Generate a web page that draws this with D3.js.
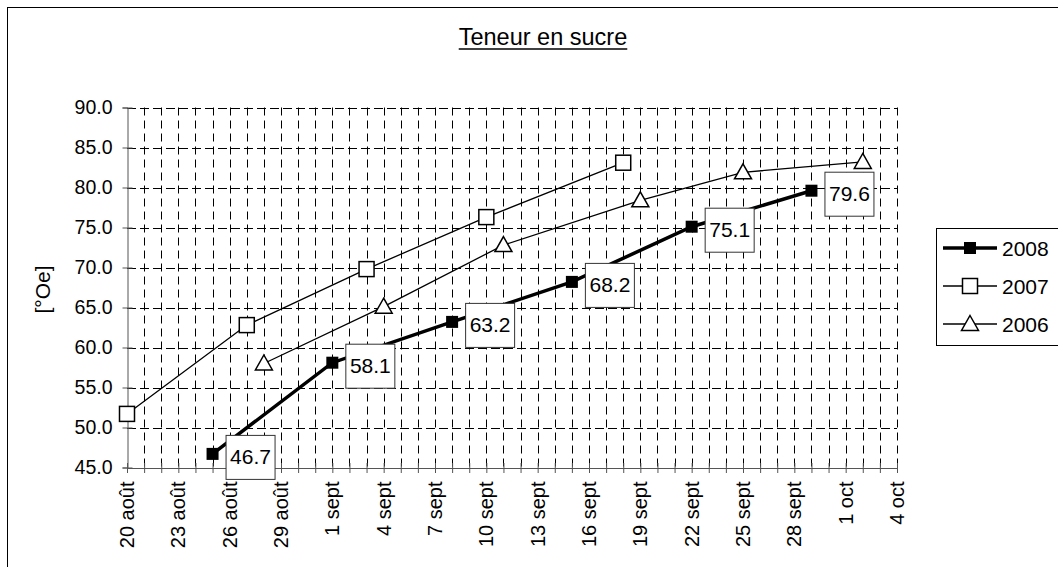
<!DOCTYPE html>
<html>
<head>
<meta charset="utf-8">
<script src="https://cdn.jsdelivr.net/npm/d3@7"></script>
<style>
  html, body { margin: 0; padding: 0; background: #fff; }
  svg { display: block; }
  text { font-family: "Liberation Sans", Arial, sans-serif; fill: #000; }
</style>
</head>
<body>
<svg id="chart" width="1058" height="567"></svg>
<script>
// ---- Data ----
const title = "Teneur en sucre";
const yAxisTitle = "[°Oe]";
const seriesNames = ["2008", "2007", "2006"];
const dates2008 = ["08-25", "09-01", "09-08", "09-15", "09-22", "09-29"];
const values2008 = [46.7, 58.1, 63.2, 68.2, 75.1, 79.6];
const dates2007 = ["08-20", "08-27", "09-03", "09-10", "09-18"];
const values2007 = [51.7, 62.8, 69.8, 76.3, 83.1];
const dates2006 = ["08-28", "09-04", "09-11", "09-19", "09-25", "10-02"];
const values2006 = [58.0, 65.1, 72.8, 78.4, 81.9, 83.2];
const xDomain = ["08-20", "10-04"];
const yTicks = [45, 50, 55, 60, 65, 70, 75, 80, 85, 90];
const monthNames = { 8: "août", 9: "sept", 10: "oct" };

// ---- Helpers ----
const parse = s => { const [m, d] = s.split("-").map(Number); return new Date(Date.UTC(2008, m - 1, d)); };
const fmtDate = d => d.getUTCDate() + " " + monthNames[d.getUTCMonth() + 1];

const svg = d3.select("#chart");
const plot = { left: 127, right: 897, top: 107.5, bottom: 467.5 };

const x = d3.scaleUtc().domain(xDomain.map(parse)).range([plot.left, plot.right]);
const y = d3.scaleLinear().domain([45, 90]).range([plot.bottom, plot.top]);

// outer border
svg.append("rect").attr("x", 7.5).attr("y", 7.5).attr("width", 1100).attr("height", 600)
  .attr("fill", "#fff").attr("stroke", "#000").attr("stroke-width", 1);

// days & tick dates
const allDays = d3.utcDay.range(parse(xDomain[0]), d3.utcDay.offset(parse(xDomain[1]), 1));
const labelDays = allDays.filter((d, i) => i % 3 === 0);

// vertical gridlines (every day)
svg.append("g").selectAll("line").data(allDays.slice(1)).join("line")
  .attr("x1", d => Math.round(x(d)) + 0.5).attr("x2", d => Math.round(x(d)) + 0.5)
  .attr("y1", plot.top).attr("y2", plot.bottom)
  .attr("stroke", "#000").attr("stroke-width", 1).attr("stroke-dasharray", "8,5");

// horizontal gridlines
svg.append("g").selectAll("line").data(yTicks.slice(1)).join("line")
  .attr("x1", plot.left).attr("x2", plot.right)
  .attr("y1", d => Math.round(y(d)) + 0.5).attr("y2", d => Math.round(y(d)) + 0.5)
  .attr("stroke", "#000").attr("stroke-width", 1).attr("stroke-dasharray", "9,4");

// Y axis
const yAxis = d3.axisLeft(y).tickValues(yTicks).tickFormat(d3.format(".1f")).tickSize(5).tickPadding(10);
const gy = svg.append("g").attr("transform", `translate(${plot.left + 0.5},0)`).call(yAxis);
gy.select(".domain").attr("stroke", "#555");
gy.selectAll(".tick line").attr("stroke", "#555").attr("x2", -5).attr("x1", 5);
gy.selectAll(".tick text").attr("font-size", 19.5).attr("font-family", "Liberation Sans, Arial, sans-serif").attr("fill", "#000");

// X axis
const xAxis = d3.axisBottom(x).tickValues(allDays).tickFormat("").tickSize(5).tickSizeOuter(0);
const gx = svg.append("g").attr("transform", `translate(0,${plot.bottom + 0.5})`).call(xAxis);
gx.select(".domain").attr("stroke", "#555");
gx.selectAll(".tick line").attr("stroke", "#555").attr("y1", -5).attr("y2", 5);

// X labels rotated
svg.append("g").selectAll("text").data(labelDays).join("text")
  .attr("transform", d => `translate(${x(d) + 7},${plot.bottom + 14}) rotate(-90)`)
  .attr("text-anchor", "end").attr("font-size", 20)
  .text(d => fmtDate(d));

// y-axis title
svg.append("text").attr("transform", `translate(50,${(plot.top + plot.bottom) / 2 + 2}) rotate(-90)`)
  .attr("text-anchor", "middle").attr("font-size", 21).text(yAxisTitle);

// Title with underline
const tx = 543;
const t = svg.append("text").attr("x", tx).attr("y", 45).attr("text-anchor", "middle")
  .attr("font-size", 23.5).text(title);
const tw = t.node().getComputedTextLength();
svg.append("line").attr("x1", tx - tw / 2).attr("x2", tx + tw / 2).attr("y1", 49).attr("y2", 49)
  .attr("stroke", "#000").attr("stroke-width", 1.5);

// ---- Series ----
const line = d3.line().x(d => x(d.date)).y(d => y(d.value));
const mk = (ds, vs) => ds.map((d, i) => ({ date: parse(d), value: vs[i] }));
const s2008 = mk(dates2008, values2008);
const s2007 = mk(dates2007, values2007);
const s2006 = mk(dates2006, values2006);

svg.append("path").datum(s2007).attr("d", line).attr("fill", "none").attr("stroke", "#000").attr("stroke-width", 1.3);
svg.append("path").datum(s2006).attr("d", line).attr("fill", "none").attr("stroke", "#000").attr("stroke-width", 1.3);
svg.append("path").datum(s2008).attr("d", line).attr("fill", "none").attr("stroke", "#000").attr("stroke-width", 3.5);

const triPath = "M0,-8.5L8.5,6.5L-8.5,6.5Z";

svg.append("g").selectAll("rect").data(s2007).join("rect")
  .attr("x", d => x(d.date) - 7.5).attr("y", d => y(d.value) - 7.5).attr("width", 15).attr("height", 15)
  .attr("fill", "#fff").attr("stroke", "#000").attr("stroke-width", 1.5);
svg.append("g").selectAll("path").data(s2006).join("path")
  .attr("transform", d => `translate(${x(d.date)},${y(d.value)})`).attr("d", triPath)
  .attr("fill", "#fff").attr("stroke", "#000").attr("stroke-width", 1.5);
svg.append("g").selectAll("rect").data(s2008).join("rect")
  .attr("x", d => x(d.date) - 6).attr("y", d => y(d.value) - 6).attr("width", 12).attr("height", 12)
  .attr("fill", "#000");

// data labels for 2008
const lab = svg.append("g").selectAll("g").data(s2008).join("g")
  .attr("transform", d => `translate(${x(d.date) + 13},${y(d.value) + 3})`);
lab.append("rect").attr("x", 0.5).attr("y", -21.5).attr("width", 49).attr("height", 44)
  .attr("fill", "#fff").attr("stroke", "#333").attr("stroke-width", 1);
lab.append("text").attr("x", 25).attr("y", 7.5).attr("text-anchor", "middle").attr("font-size", 21)
  .text(d => d.value.toFixed(1));

// ---- Legend ----
const lg = svg.append("g");
lg.append("rect").attr("x", 936.5).attr("y", 228.5).attr("width", 140).attr("height", 117)
  .attr("fill", "#fff").attr("stroke", "#000").attr("stroke-width", 1);
const legendRows = [
  { name: seriesNames[0], y: 248, width: 3.5, marker: "fsq" },
  { name: seriesNames[1], y: 286, width: 1.3, marker: "osq" },
  { name: seriesNames[2], y: 324, width: 1.3, marker: "tri" }
];
const row = lg.selectAll("g").data(legendRows).join("g").attr("transform", d => `translate(0,${d.y})`);
row.append("line").attr("x1", 943).attr("x2", 997).attr("y1", 0).attr("y2", 0)
  .attr("stroke", "#000").attr("stroke-width", d => d.width);
row.each(function (d) {
  const g = d3.select(this);
  if (d.marker === "fsq") g.append("rect").attr("x", 964).attr("y", -6).attr("width", 12).attr("height", 12).attr("fill", "#000");
  else if (d.marker === "osq") g.append("rect").attr("x", 962.5).attr("y", -7.5).attr("width", 15).attr("height", 15).attr("fill", "#fff").attr("stroke", "#000").attr("stroke-width", 1.5);
  else g.append("path").attr("transform", "translate(970,0)").attr("d", triPath).attr("fill", "#fff").attr("stroke", "#000").attr("stroke-width", 1.5);
});
row.append("text").attr("x", 1002).attr("y", 7.5).attr("font-size", 21).text(d => d.name);
</script>
</body>
</html>
